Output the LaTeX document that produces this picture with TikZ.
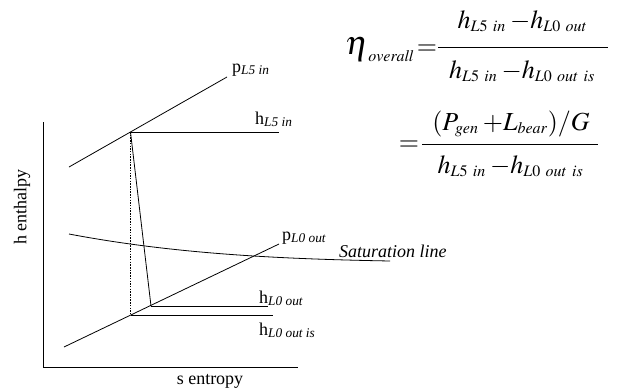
\documentclass[tikz,border=0pt]{standalone}
\usepackage{mathptmx}
\usepackage[no-math]{fontspec}
\setmainfont{Liberation Serif}
\DeclareMathSizes{26}{26}{16}{12}
\begin{document}
\begin{tikzpicture}[x=1pt,y=-1pt,
  ln/.style={line width=0.8pt},
  lbl/.style={inner sep=0pt,anchor=base west,font=\fontsize{18}{20}\selectfont},
  axlbl/.style={inner sep=0pt,font=\fontsize{18}{20}\selectfont},
  eqn/.style={inner sep=0pt,anchor=base,font=\fontsize{26}{30}\selectfont}]
\useasboundingbox (0,0) rectangle (618,391);
% axes
\coordinate (ytop) at (43,122);
\coordinate (orig) at (43,367);
\coordinate (xend) at (298,367);
\draw[ln] (ytop) -- (orig) -- (xend);
\node[axlbl,rotate=90] (hlab) at (22,207) {h enthalpy};
\node[axlbl] (slab) at (210,381) {s entropy};
% upper isobar
\coordinate (pA) at (69,167);
\coordinate (pB) at (227,77);
\coordinate (in) at (130.5,132);
\draw[ln] (pA) -- (pB);
% lower isobar
\coordinate (qA) at (64,347);
\coordinate (qB) at (279,244);
\draw[ln] (qA) -- (qB);
% enthalpy levels
\coordinate (h5end) at (279,132);
\coordinate (out) at (151,306);
\coordinate (h0end) at (268,306);
\coordinate (is) at (130.5,315.5);
\coordinate (h0isend) at (273,315.5);
\draw[ln] (in) -- (h5end);
\draw[ln] (out) -- (h0end);
\draw[ln] (is) -- (h0isend);
\draw[ln] (in) -- (out);
\draw[line width=0.6pt,dash pattern=on 1.5pt off 1.2pt] (in) -- (is);
% saturation line
\coordinate (sA) at (69,234);
\coordinate (sB) at (390,261);
\draw[ln] (sA) .. controls (176,254.3) and (283,259) .. (sB);
% labels
\node[lbl] (pL5) at (232,72) {p\textsubscript{\itshape L5 in}};
\node[lbl] (hL5) at (255,124) {h\textsubscript{\itshape L5 in}};
\node[lbl] (pL0) at (282,240) {p\textsubscript{\itshape L0 out}};
\node[lbl] (hL0) at (259,303) {h\textsubscript{\itshape L0 out}};
\node[lbl] (hL0is) at (259,335) {h\textsubscript{\itshape L0 out is}};
\node[lbl] (sat) at (339,257.5) {\itshape Saturation line};
% equation
\node[eqn,anchor=base west] (eta) at (345,54) {$\scalebox{1.3}{$\eta$}_{\mathit{overall}}\mskip2mu{=}$};
\node[eqn] (num1) at (522.5,28) {$h_{L5\;\, in}\mskip3mu{-}h_{L0\;\, out}$};
\coordinate (b1a) at (438,47);
\coordinate (b1b) at (608,47);
\draw[line width=1pt] (b1a) -- (b1b);
\node[eqn] (den1) at (522,78) {$h_{L5\;\, in}\mskip3mu{-}h_{L0\;\, out\;\, is}$};
\node[eqn] (eq2) at (409,150) {${=}$};
\node[eqn] (num2) at (511,130) {$(P_{gen}\mskip3mu{+}L_{bear})/G$};
\coordinate (b2a) at (422,144);
\coordinate (b2b) at (598,144);
\draw[line width=1pt] (b2a) -- (b2b);
\node[eqn] (den2) at (510.5,173) {$h_{L5\;\, in}\mskip3mu{-}h_{L0\;\, out\;\, is}$};
\end{tikzpicture}
\end{document}
